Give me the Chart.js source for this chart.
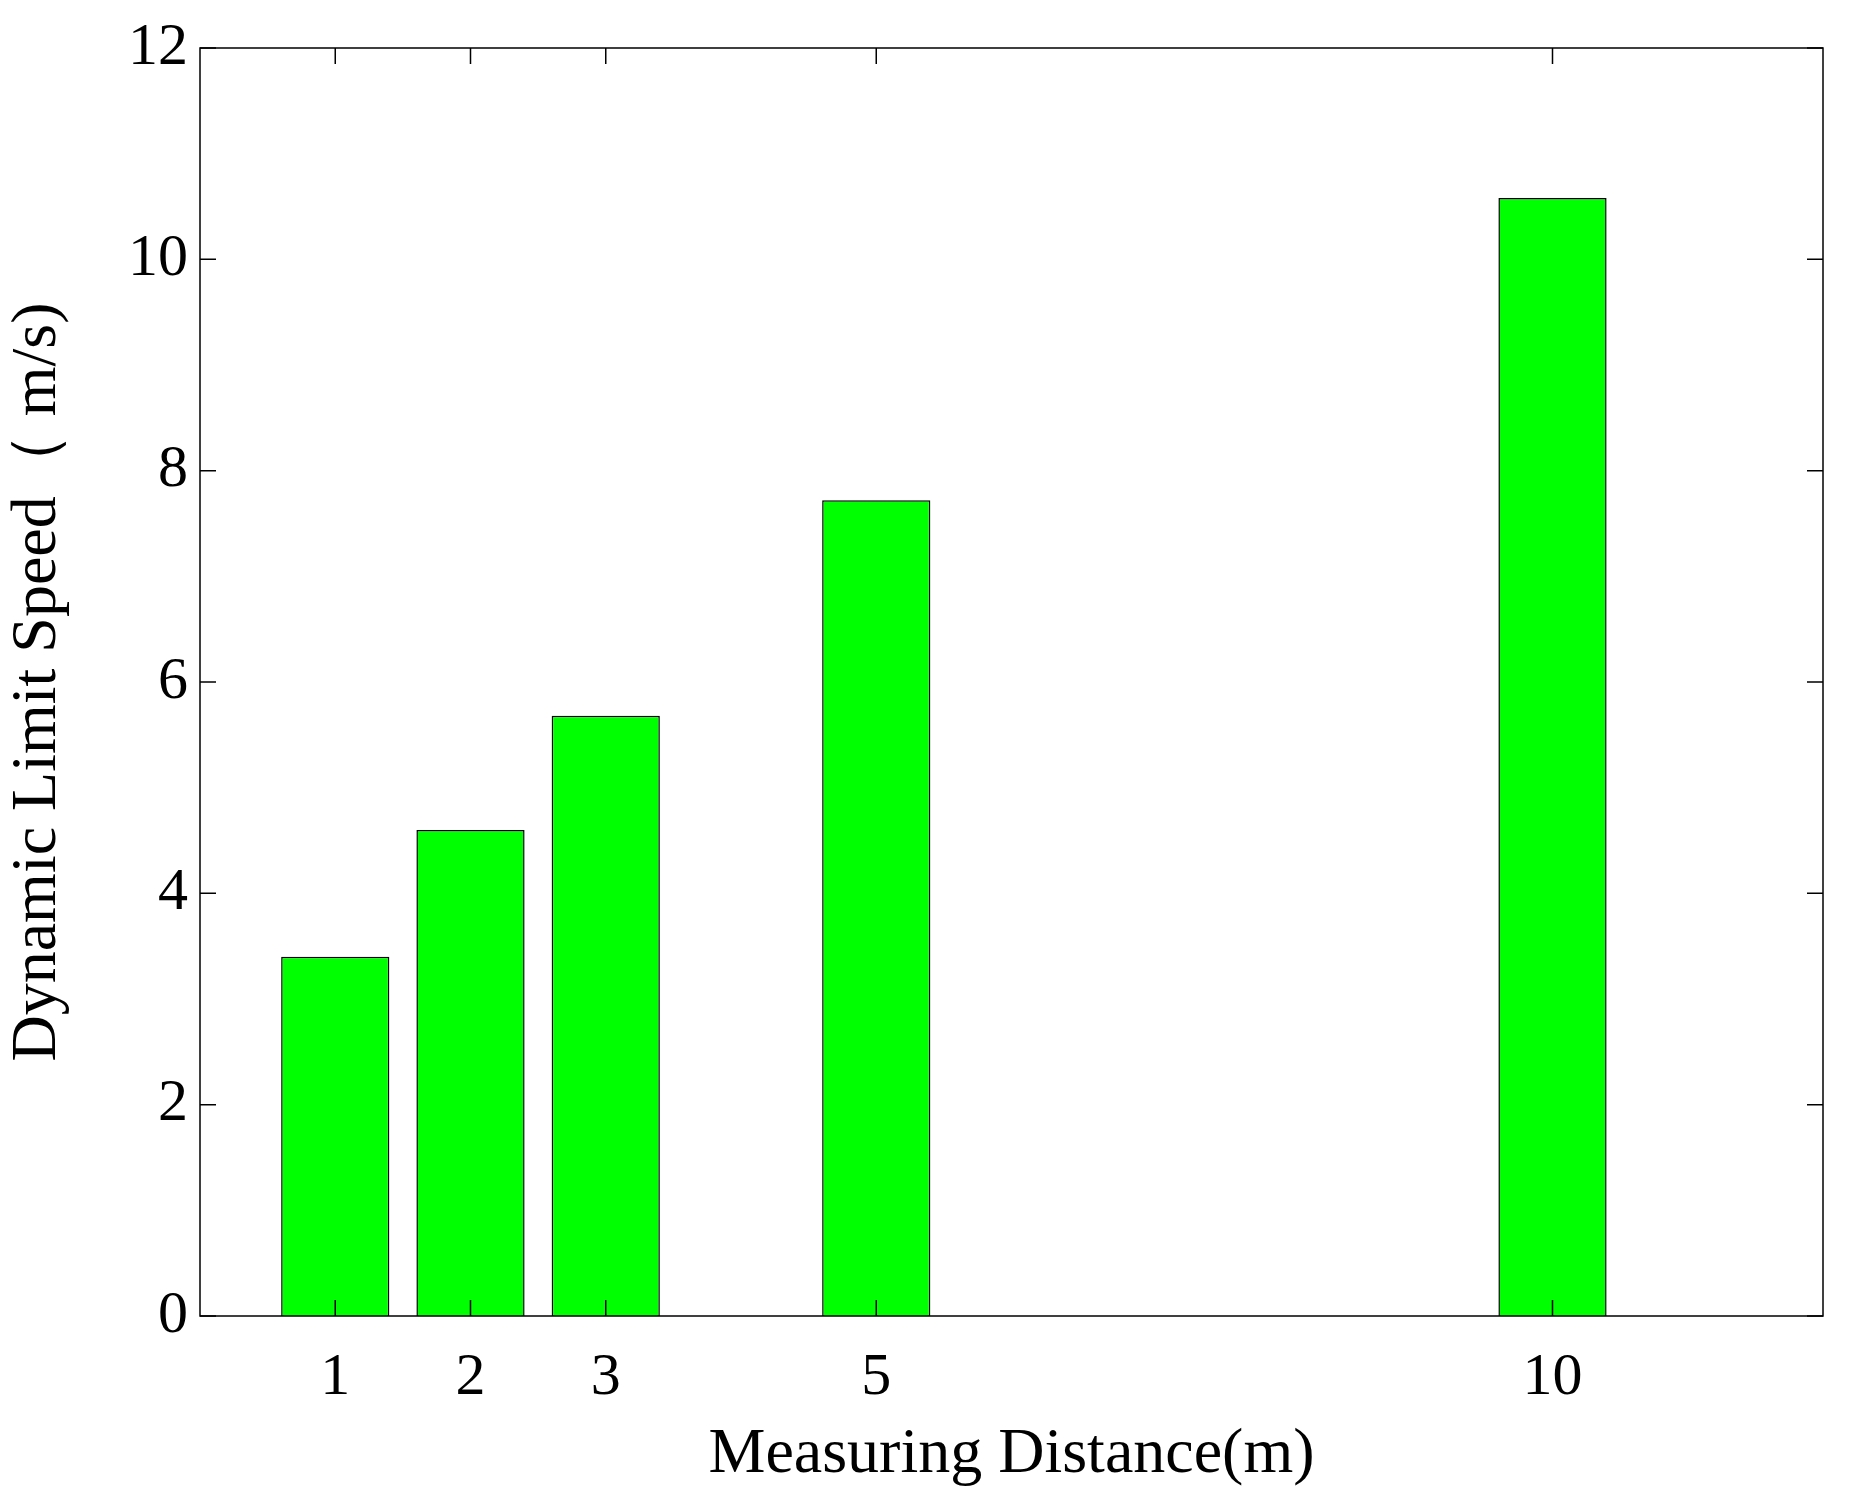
<!DOCTYPE html>
<html><head><meta charset="utf-8">
<script src="https://cdn.jsdelivr.net/npm/chart.js@4"></script>
<style>html,body{margin:0;padding:0;background:#fff}#w{width:1849px;height:1494px}</style>
</head><body><div id="w"><canvas id="c"></canvas></div>
<script>
const distances = [1, 2, 3, 5, 10];
const speeds = [3.4, 4.6, 5.68, 7.72, 10.58];
const xTickValues = [1, 2, 3, 5, 10];
const yTickValues = [0, 2, 4, 6, 8, 10, 12];
const xTitle = 'Measuring Distance(m)';
const yTitle = 'Dynamic Limit Speed（ m/s)';

const FONT = 'Liberation Serif';
const frame = {
  id: 'frame',
  afterDraw(chart) {
    const {ctx, chartArea: a, scales: {x, y}} = chart;
    ctx.save();
    ctx.strokeStyle = '#000';
    ctx.lineWidth = 1.5;
    ctx.strokeRect(a.left, a.top, a.right - a.left, a.bottom - a.top);
    const L = 16;
    ctx.beginPath();
    xTickValues.forEach(v => {
      const p = x.getPixelForValue(v);
      ctx.moveTo(p, a.bottom); ctx.lineTo(p, a.bottom - L);
      ctx.moveTo(p, a.top); ctx.lineTo(p, a.top + L);
    });
    yTickValues.forEach(v => {
      const p = y.getPixelForValue(v);
      ctx.moveTo(a.left, p); ctx.lineTo(a.left + L, p);
      ctx.moveTo(a.right, p); ctx.lineTo(a.right - L, p);
    });
    ctx.stroke();
    ctx.restore();
  }
};

new Chart(document.getElementById('c'), {
  type: 'bar',
  data: {
    datasets: [{
      data: distances.map((d, i) => ({x: d, y: speeds[i]})),
      backgroundColor: '#00ff00',
      borderColor: '#000',
      borderWidth: 1.5,
      barPercentage: 0.8,
      categoryPercentage: 1.0
    }]
  },
  options: {
    responsive: true, maintainAspectRatio: false, animation: false,
    layout: {padding: {left: 0, top: 39, right: 26, bottom: 0}},
    plugins: {legend: {display: false}, tooltip: {enabled: false}},
    scales: {
      x: {
        type: 'linear', min: 0, max: 12, offset: false,
        afterBuildTicks: s => { s.ticks = xTickValues.map(v => ({value: v})); },
        afterFit: s => { s.height = 178; },
        grid: {display: false, drawTicks: false},
        border: {display: false},
        ticks: {color: '#000', font: {family: FONT, size: 60}, padding: 26, maxRotation: 0},
        title: {display: true, text: xTitle, color: '#000', font: {family: FONT, size: 64}, padding: {top: 4, bottom: 0}}
      },
      y: {
        min: 0, max: 12,
        afterBuildTicks: s => { s.ticks = yTickValues.map(v => ({value: v})); },
        afterFit: s => { s.width = 200; },
        grid: {display: false, drawTicks: false},
        border: {display: false},
        ticks: {color: '#000', font: {family: FONT, size: 60}, padding: 12},
        title: {display: true, text: yTitle, color: '#000', font: {family: FONT, size: 64}, padding: {top: 0, bottom: 10}}
      }
    }
  },
  plugins: [frame]
});
</script></body></html>
